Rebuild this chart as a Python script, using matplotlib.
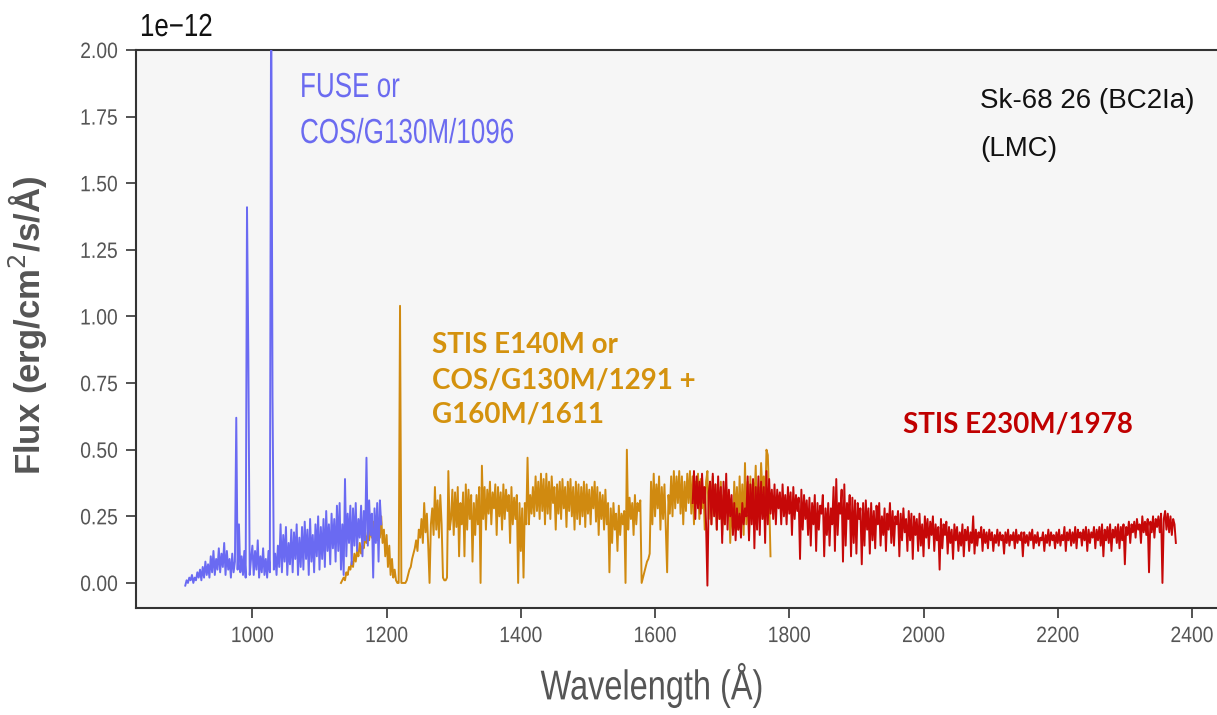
import numpy as np
import matplotlib
matplotlib.use("Agg")
import matplotlib.pyplot as plt
from matplotlib import patheffects
from matplotlib.transforms import Affine2D

# ---------------- data (flux in units of 0.01e-12 erg/cm2/s/A, 2 A sampling) ----------------
blue_start, blue_step = 900, 2
blue_flux = [-1, 1, 0, 2, 1, 3, 0, 2, 1, 4,
             2, 5, 1, 6, 2, 8, 3, 7, 2, 10,
             4, 12, 3, 9, 5, 13, 4, 11, 6, 15,
             3, 12, 5, 9, 2, 11, 4, 8, 62, 5,
             22, 4, 10, 3, 12, 2, 141, 85, 3, 9,
             14, 3, 12, 5, 16, 2, 10, 4, 13, 3,
             9, 2, 12, 4, 230, 70, 5, 11, 3, 14,
             6, 22, 4, 18, 8, 21, 3, 15, 7, 20,
             4, 19, 9, 22, 3, 17, 6, 21, 5, 23,
             9, 20, 3, 24, 8, 18, 4, 22, 10, 25,
             5, 21, 9, 24, 6, 27, 12, 22, 7, 26,
             13, 24, 8, 29, 12, 30, 5, 22, 3, 39,
             10, 26, 15, 29, 7, 28, 14, 30, 12, 24,
             17, 29, 10, 27, 16, 47, 14, 31, 18, 26,
             2, 28, 15, 30, 8, 31, 22]

orange_start, orange_step = 1132, 2
orange_flux = [0, 1, 2, 1, 4, 3, 6, 5, 8, 6,
               11, 8, 12, 10, 15, 11, 14, 13, 18, 15,
               19, 16, 21, 17, 23, 18, 22, 16, 24, 17,
               25, 15, 20, 10, 18, 6, 14, 3, 9, 2,
               5, 1, 0, 0, 104, 0, 0, 0, 0, 1,
               3, 5, 6, 9, 11, 13, 16, 12, 20, 17,
               24, 15, 30, 19, 26, 14, 0, 22, 28, 18,
               36, 20, 31, 17, 33, 22, 2, 1, 1, 2,
               42, 20, 24, 35, 18, 34, 21, 36, 10, 30,
               22, 34, 10, 37, 20, 35, 24, 33, 8, 30,
               18, 33, 22, 36, 0, 44, 24, 36, 20, 35,
               26, 38, 22, 34, 28, 37, 18, 36, 25, 34,
               20, 37, 24, 35, 27, 33, 15, 36, 22, 32,
               24, 33, 0, 30, 12, 28, 2, 30, 22, 47,
               22, 33, 26, 36, 25, 40, 27, 38, 24, 41,
               27, 39, 22, 41, 26, 38, 24, 40, 30, 36,
               20, 37, 26, 38, 24, 39, 28, 36, 21, 38,
               27, 39, 25, 36, 20, 38, 24, 37, 22, 36,
               25, 38, 21, 37, 26, 35, 22, 36, 28, 38,
               23, 36, 18, 34, 24, 33, 20, 35, 22, 30,
               4, 28, 15, 30, 20, 26, 12, 29, 18, 26,
               22, 27, 0, 50, 20, 32, 24, 30, 18, 33,
               22, 30, 27, 31, 0, 2, 4, 6, 8, 9,
               11, 38, 22, 41, 25, 37, 28, 40, 20, 36,
               24, 37, 20, 4, 33, 26, 40, 25, 42, 28,
               40, 30, 42, 26, 40, 22, 38, 27, 41, 30,
               42, 26, 40, 22, 38, 30, 41, 24, 39, 28,
               36, 20, 38, 42, 24, 38, 22, 40, 26, 37,
               20, 35, 24, 38, 18, 33, 22, 36, 26, 34,
               15, 30, 20, 38, 24, 36, 20, 40, 22, 37,
               18, 45, 22, 38, 16, 40, 26, 38, 30, 44,
               22, 36, 28, 45, 34, 40, 27, 50, 48, 32,
               10]

red_start, red_step = 1656, 2
red_flux = [30, 42, 24, 40, 28, 38, 26, 41, 30, 36,
            22, -1, 34, 38, 22, 41, 25, 37, 20, 40,
            24, 36, 15, 38, 22, 41, 20, 35, 25, 33,
            18, 30, 16, 28, 20, 26, 17, 30, 22, 28,
            25, 40, 16, 37, 22, 39, 13, 36, 20, 40,
            18, 38, 24, 36, 15, 42, 22, 39, 26, 35,
            24, 37, 22, 35, 28, 34, 22, 37, 25, 33,
            22, 36, 26, 34, 18, 36, 24, 33, 27, 32,
            9, 35, 20, 33, 24, 31, 18, 32, 14, 30,
            22, 33, 12, 30, 20, 29, 26, 33, 10, 28,
            18, 30, 14, 28, 22, 36, 12, 39, 18, 30,
            26, 35, 8, 37, 14, 30, 24, 33, 10, 32,
            15, 31, 11, 30, 24, 28, 7, 30, 14, 31,
            20, 28, 11, 30, 16, 27, 13, 29, 22, 30,
            14, 25, 18, 28, 12, 26, 20, 30, 15, 27,
            14, 25, 22, 27, 10, 26, 16, 28, 19, 24,
            12, 27, 16, 26, 9, 25, 18, 24, 12, 26,
            14, 22, 10, 25, 17, 24, 13, 23, 18, 25,
            12, 22, 16, 21, 5, 24, 13, 22, 18, 23,
            11, 21, 15, 20, 9, 22, 16, 21, 12, 19,
            14, 22, 10, 20, 16, 21, 12, 19, 15, 25,
            11, 20, 14, 19, 17, 21, 12, 20, 15, 19,
            13, 20, 16, 19, 12, 18, 15, 20, 14, 19,
            16, 18, 11, 19, 15, 20, 14, 18, 16, 19,
            13, 20, 15, 18, 16, 19, 10, 19, 15, 18,
            14, 19, 16, 20, 13, 18, 15, 19, 14, 17,
            16, 19, 12, 18, 15, 20, 14, 19, 16, 18,
            13, 19, 15, 20, 14, 18, 16, 21, 12, 19,
            16, 20, 14, 19, 15, 21, 13, 20, 17, 19,
            14, 20, 16, 21, 12, 20, 15, 19, 17, 21,
            13, 20, 16, 21, 14, 22, 10, 20, 16, 21,
            15, 22, 12, 20, 17, 21, 15, 22, 13, 21,
            16, 22, 7, 21, 18, 23, 15, 22, 19, 23,
            17, 24, 20, 22, 15, 25, 19, 23, 18, 24,
            4, 23, 19, 25, 17, 24, 21, 25, 19, 26,
            0, 24, 27, 20, 26, 19, 25, 18, 24, 22,
            15]

x_ticks = [1000, 1200, 1400, 1600, 1800, 2000, 2200, 2400]
y_ticks = [0.00, 0.25, 0.50, 0.75, 1.00, 1.25, 1.50, 1.75, 2.00]
unit = 0.01e-12   # data lists are in 1e-14
scale = 1e-12


# ---- horizontal condensing of real text (imitates a condensed typeface) ----
class Condense(patheffects.AbstractPathEffect):
    def __init__(self, sx, anchor="left"):
        super().__init__()
        self.sx = sx
        self.anchor = anchor

    def draw_path(self, renderer, gc, tpath, affine, rgbFace=None):
        ext = tpath.get_extents()
        if self.anchor == "left":
            x0 = 0.0
        elif self.anchor == "right":
            x0 = ext.x1
        else:
            x0 = 0.5 * (ext.x0 + ext.x1)
        t = Affine2D().translate(-x0, 0).scale(self.sx, 1).translate(x0, 0) + affine
        renderer.draw_path(gc, tpath, t, rgbFace)


SANS = ["Liberation Sans", "DejaVu Sans"]
BOLD = ["Lato", "Open Sans", "DejaVu Sans"]

W, H = 1217, 715
fig = plt.figure(figsize=(W / 100, H / 100), dpi=100)
fig.patch.set_facecolor("white")
ax = fig.add_axes([136 / W, 1 - 608 / H, (W - 136) / W, (608 - 50) / H])
ax.set_facecolor("#f6f6f6")


def seg(start, step, flux):
    f = np.asarray(flux, dtype=float) * unit
    return start + step * np.arange(len(f)), f


wl_o, f_o = seg(orange_start, orange_step, orange_flux)
wl_b, f_b = seg(blue_start, blue_step, blue_flux)
wl_r, f_r = seg(red_start, red_step, red_flux)

ax.plot(wl_o, f_o, color="#d08a10", lw=1.4, zorder=2)
ax.plot(wl_b, f_b, color="#6a6af2", lw=1.4, zorder=3)
ax.plot(wl_r, f_r, color="#c60808", lw=1.4, zorder=4)

ax.set_xlim(826.6, 2437.3)
ax.set_ylim(-0.094 * scale, 2.0 * scale)
ax.set_xticks(x_ticks)
ax.set_yticks([v * scale for v in y_ticks])
ax.set_yticklabels([f"{v:.2f}" for v in y_ticks])
ax.set_xticklabels([str(v) for v in x_ticks])

for s in ["left", "bottom", "top"]:
    ax.spines[s].set_color("#333333")
    ax.spines[s].set_linewidth(1.5)
ax.spines["right"].set_visible(False)
ax.tick_params(direction="out", length=7, width=1.3, color="#444444",
               labelcolor="#555555", labelsize=16, pad=6)
for lab in ax.get_yticklabels():
    lab.set_family(SANS)
    lab.set_fontsize(16)
    lab.set_path_effects([Condense(0.87, "right")])
for lab in ax.get_xticklabels():
    lab.set_family(SANS)
    lab.set_fontsize(16)
    lab.set_path_effects([Condense(0.87, "center")])

fig.text(140 / W, 1 - 36 / H, "1e\u221212", fontsize=23, color="#111111",
         ha="left", va="baseline", family=SANS,
         path_effects=[Condense(0.81, "left")])

fig.text(28 / W, 1 - 325 / H, "Flux (erg/cm$^2$/s/Å)", rotation=90,
         fontsize=25, color="#555555", fontweight="bold",
         ha="center", va="center", family=SANS)
fig.text(652 / W, 1 - 685 / H, "Wavelength (Å)", fontsize=30,
         color="#555555", ha="center", va="center", family=SANS,
         path_effects=[Condense(0.78, "center")])

fig.text(300 / W, 1 - 97 / H, "FUSE or", fontsize=25, color="#6b6bf0",
         ha="left", va="baseline", family=SANS,
         path_effects=[Condense(0.75, "left")])
fig.text(300 / W, 1 - 143 / H, "COS/G130M/1096", fontsize=25,
         color="#6b6bf0", ha="left", va="baseline", family=SANS,
         path_effects=[Condense(0.75, "left")])

fig.text(980 / W, 1 - 108 / H, "Sk-68 26 (BC2Ia)", fontsize=20,
         color="#111111", ha="left", va="baseline", family=SANS)
fig.text(980 / W, 1 - 156 / H, "(LMC)", fontsize=20, color="#111111",
         ha="left", va="baseline", family=SANS)

orange_lines = ["STIS E140M or", "COS/G130M/1291 +", "G160M/1611"]
for i, t in enumerate(orange_lines):
    fig.text(432 / W, 1 - (353 + 35 * i) / H, t, fontsize=20,
             color="#d4920e", fontweight="bold", ha="left", va="baseline",
             family=BOLD)
fig.text(903 / W, 1 - 433 / H, "STIS E230M/1978", fontsize=20,
         color="#c00000", fontweight="bold", ha="left", va="baseline",
         family=BOLD)

fig.savefig("out.png", dpi=100, facecolor="white")
